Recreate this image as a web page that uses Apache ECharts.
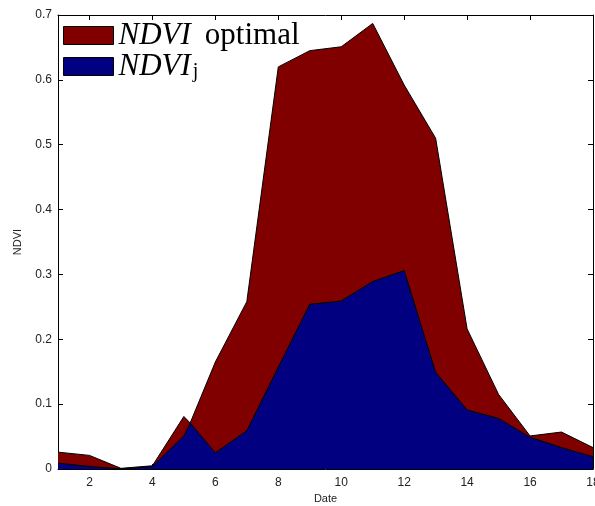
<!DOCTYPE html>
<html>
<head>
<meta charset="utf-8">
<script src="https://cdn.jsdelivr.net/npm/echarts@6/dist/echarts.min.js"></script>
<style>
  html, body { margin: 0; padding: 0; background: #fff; }
  #chart { width: 595px; height: 506px; }
</style>
</head>
<body>
<div id="chart"></div>
<script>
// Dates (x) and NDVI values
const dates = [1, 2, 3, 4, 5, 5.2, 6, 7, 8, 9, 10, 11, 12, 13, 14, 15, 16, 17, 18];
const ndviOptimal = [0.026, 0.021, 0.001, 0.005, 0.081, 0.071, 0.165, 0.258, 0.62, 0.645, 0.651, 0.687, 0.592, 0.51, 0.216, 0.115, 0.051, 0.057, 0.033];
const ndviJ = [0.009, 0.004, 0.0, 0.004, 0.051, 0.071, 0.025, 0.059, 0.157, 0.254, 0.259, 0.289, 0.306, 0.149, 0.091, 0.078, 0.049, 0.033, 0.019];
const xTicks = [2, 4, 6, 8, 10, 12, 14, 16, 18];

const chart = echarts.init(document.getElementById('chart'));

const axisFont = { fontFamily: 'Liberation Sans', fontSize: 12, color: '#222' };
const tickStyle = { show: true, inside: true, length: 5, lineStyle: { color: '#000', width: 1 } };
const lineAxis = { show: true, onZero: false, lineStyle: { color: '#000', width: 1 } };

const pairs = (vals) => dates.map((d, i) => [d, vals[i]]);

const option = {
  animation: false,
  backgroundColor: '#fff',
  grid: { left: 58, right: 2, top: 15, bottom: 37, outerBoundsMode: 'none', containLabel: false },
  legend: {
    orient: 'vertical',
    left: 63,
    top: 20,
    padding: 0,
    itemGap: 0,
    itemWidth: 50,
    itemHeight: 18,
    icon: 'rect',
    itemStyle: { borderColor: '#000', borderWidth: 1 },
    data: ['NDVI optimal', 'NDVI j'],
    formatter: (name) => name === 'NDVI optimal' ? '{i|NDVI}{r|optimal}' : '{i|NDVI}{s|j}',
    textStyle: {
      color: '#000',
      rich: {
        i: { fontFamily: 'Liberation Serif', fontStyle: 'italic', fontSize: 31, lineHeight: 30, color: '#000', padding: [0, 2, 0, 0] },
        r: { fontFamily: 'Liberation Serif', fontSize: 31, lineHeight: 30, color: '#000', padding: [0, 0, 0, 12] },
        s: { fontFamily: 'Liberation Serif', fontSize: 20, lineHeight: 12, verticalAlign: 'bottom', color: '#000' }
      }
    }
  },
  xAxis: [
    {
      type: 'value', min: 1, max: 18,
      name: 'Date', nameLocation: 'middle', nameGap: 22,
      nameTextStyle: { fontFamily: 'Liberation Sans', fontSize: 11, color: '#222' },
      axisLine: lineAxis,
      axisTick: Object.assign({ customValues: xTicks }, tickStyle),
      axisLabel: Object.assign({ customValues: xTicks, margin: 8 }, axisFont),
      splitLine: { show: false }
    },
    {
      type: 'value', min: 1, max: 18, position: 'top',
      axisLine: lineAxis,
      axisTick: Object.assign({ customValues: xTicks }, tickStyle),
      axisLabel: { show: false },
      splitLine: { show: false }
    }
  ],
  yAxis: [
    {
      type: 'value', min: 0, max: 0.7, interval: 0.1,
      name: 'NDVI', nameLocation: 'middle', nameGap: 35,
      nameTextStyle: { fontFamily: 'Liberation Sans', fontSize: 11, color: '#222' },
      axisLine: lineAxis,
      axisTick: tickStyle,
      axisLabel: Object.assign({ margin: 6, formatter: (v) => String(Math.round(v * 10) / 10) }, axisFont),
      splitLine: { show: false }
    },
    {
      type: 'value', min: 0, max: 0.7, interval: 0.1, position: 'right',
      axisLine: lineAxis,
      axisTick: tickStyle,
      axisLabel: { show: false },
      splitLine: { show: false }
    }
  ],
  series: [
    {
      name: 'NDVI optimal',
      type: 'line',
      data: pairs(ndviOptimal),
      symbol: 'none',
      itemStyle: { color: '#800000' },
      lineStyle: { color: '#000', width: 1 },
      areaStyle: { color: '#800000', opacity: 1 },
      z: 2
    },
    {
      name: 'NDVI j',
      type: 'line',
      data: pairs(ndviJ),
      symbol: 'none',
      itemStyle: { color: '#000080' },
      lineStyle: { color: '#000', width: 1 },
      areaStyle: { color: '#000080', opacity: 1 },
      z: 3
    }
  ]
};

chart.setOption(option);
</script>
</body>
</html>
